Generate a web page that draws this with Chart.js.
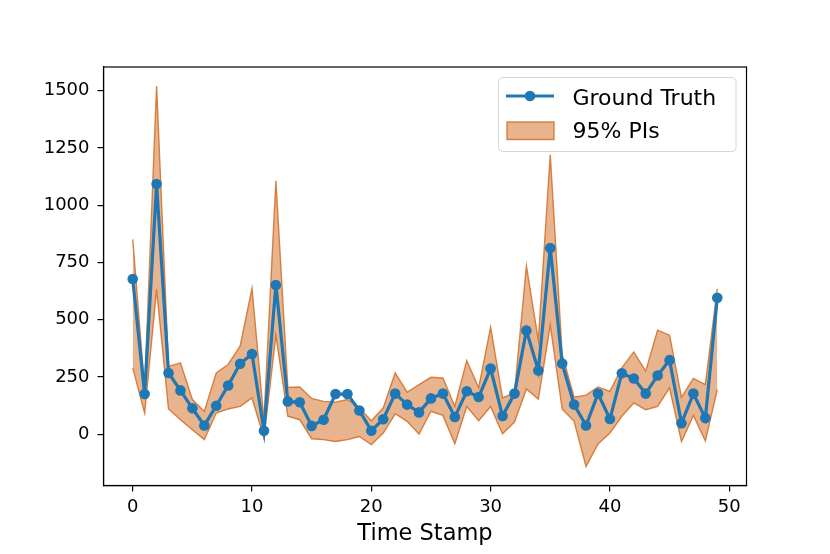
<!DOCTYPE html>
<html lang="en">
<head>
    <meta charset="UTF-8">
    <title>Ground Truth vs 95% PIs</title>
    <script src="https://cdn.jsdelivr.net/npm/chart.js"></script>
    <style>
        body { margin: 0; background: #ffffff; }
        canvas { display: block; }
    </style>
</head>
<body>
    <canvas id="piChart" width="830" height="554"></canvas>

    <script>
        // values
        const timeStamps = [0, 1, 2, 3, 4, 5, 6, 7, 8, 9, 10, 11, 12, 13, 14, 15, 16, 17, 18, 19,
                            20, 21, 22, 23, 24, 25, 26, 27, 28, 29, 30, 31, 32, 33, 34, 35, 36, 37, 38, 39,
                            40, 41, 42, 43, 44, 45, 46, 47, 48, 49];
        const groundTruth = [678, 176, 1092, 268, 192, 114, 39, 125, 213, 308, 351, 16, 652, 144, 140, 37,
                             64, 176, 176, 104, 16, 66, 178, 130, 96, 157, 178, 76, 188, 163, 287, 80, 178,
                             453, 279, 813, 309, 130, 39, 178, 67, 267, 244, 178, 257, 324, 49, 178, 71, 596];
        const piUpper = [851, 200, 1520, 297, 312, 152, 100, 268, 305, 385, 637, 60, 1106, 205, 207, 157,
                         144, 141, 152, 115, 60, 115, 268, 184, 217, 249, 246, 122, 322, 203, 468, 159, 181,
                         735, 410, 1220, 348, 162, 171, 207, 188, 290, 360, 276, 455, 433, 162, 244, 217, 635];
        const piLower = [290, 93, 633, 111, 64, 20, -23, 93, 111, 122, 159, -16, 433, 79, 64, -19,
                         -23, -31, -23, -9, -45, 6, 90, 57, 1, 101, 83, -41, 122, 60, 122, 3, 54,
                         198, 154, 477, 111, 57, -140, -42, 6, 79, 137, 108, 122, 203, -31, 83, -28, 195];
        const xTicks = [0, 10, 20, 30, 40, 50];
        const yTicks = [0, 250, 500, 750, 1000, 1250, 1500];

        const FONT = "'DejaVu Sans', sans-serif";
        const BLUE = "#1f77b4";
        const BAND_FILL = "rgba(210, 105, 30, 0.5)";
        const BAND_EDGE = "rgba(210, 110, 40, 0.85)";

        const toPoints = arr => arr.map((v, i) => ({ x: timeStamps[i], y: v }));

        // box round the plot and a matplotlib style legend
        const framePlugin = {
            id: "frame",
            afterDraw(chart) {
                const ctx = chart.ctx;
                const a = chart.chartArea;
                ctx.save();
                ctx.strokeStyle = "#000";
                ctx.lineWidth = 1.2;
                ctx.strokeRect(a.left, a.top, a.right - a.left, a.bottom - a.top);

                // legend
                const lx = 498.5, ly = 77.5, lw = 237.5, lh = 74, r = 4;
                ctx.beginPath();
                ctx.moveTo(lx + r, ly);
                ctx.arcTo(lx + lw, ly, lx + lw, ly + lh, r);
                ctx.arcTo(lx + lw, ly + lh, lx, ly + lh, r);
                ctx.arcTo(lx, ly + lh, lx, ly, r);
                ctx.arcTo(lx, ly, lx + lw, ly, r);
                ctx.closePath();
                ctx.fillStyle = "rgba(255,255,255,0.8)";
                ctx.fill();
                ctx.strokeStyle = "#d6d6d6";
                ctx.lineWidth = 1;
                ctx.stroke();

                ctx.strokeStyle = BLUE;
                ctx.lineWidth = 3.2;
                ctx.beginPath();
                ctx.moveTo(506, 96);
                ctx.lineTo(554, 96);
                ctx.stroke();
                ctx.fillStyle = BLUE;
                ctx.beginPath();
                ctx.arc(530, 96, 5.3, 0, Math.PI * 2);
                ctx.fill();

                ctx.fillStyle = BAND_FILL;
                ctx.fillRect(507, 122, 47, 17.5);
                ctx.strokeStyle = BAND_EDGE;
                ctx.lineWidth = 1.4;
                ctx.strokeRect(507, 122, 47, 17.5);

                ctx.fillStyle = "#000";
                ctx.font = "22px " + FONT;
                ctx.textBaseline = "alphabetic";
                ctx.fillText("Ground Truth", 572.5, 105);
                ctx.fillText("95% PIs", 572.5, 138);
                ctx.restore();
            }
        };

        const ctx = document.getElementById("piChart").getContext("2d");
        new Chart(ctx, {
            type: "line",
            data: {
                datasets: [
                    {
                        label: "Ground Truth",
                        data: toPoints(groundTruth),
                        borderColor: BLUE,
                        backgroundColor: BLUE,
                        borderWidth: 3.2,
                        pointRadius: 5.3,
                        pointHoverRadius: 5.3,
                        pointBorderWidth: 0,
                        tension: 0,
                        fill: false,
                        order: 0
                    },
                    {
                        label: "95% PIs",
                        data: toPoints(piUpper),
                        borderColor: BAND_EDGE,
                        backgroundColor: BAND_FILL,
                        borderWidth: 1.4,
                        pointRadius: 0,
                        tension: 0,
                        fill: "+1",
                        order: 1
                    },
                    {
                        label: "lower",
                        data: toPoints(piLower),
                        borderColor: BAND_EDGE,
                        backgroundColor: BAND_FILL,
                        borderWidth: 1.4,
                        pointRadius: 0,
                        tension: 0,
                        fill: false,
                        order: 2
                    }
                ]
            },
            options: {
                responsive: false,
                animation: false,
                layout: { padding: { left: 0, top: 67, right: 83.5, bottom: 0 } },
                plugins: {
                    legend: { display: false },
                    tooltip: { enabled: false }
                },
                scales: {
                    x: {
                        type: "linear",
                        min: -2.45,
                        max: 51.45,
                        afterBuildTicks: s => { s.ticks = xTicks.map(v => ({ value: v })); },
                        afterFit: s => { s.height = 68.5; },
                        grid: { drawOnChartArea: false, drawTicks: true, tickLength: 6, color: "#000", lineWidth: 1.2 },
                        border: { display: true, color: "#000", width: 1.2 },
                        ticks: {
                            padding: 5,
                            color: "#000",
                            font: { family: FONT, size: 18 },
                            maxRotation: 0,
                            callback: v => String(v)
                        },
                        title: {
                            display: true,
                            text: "Time Stamp",
                            color: "#000",
                            font: { family: FONT, size: 22.5 },
                            padding: { top: 0, bottom: 6 }
                        }
                    },
                    y: {
                        min: -223,
                        max: 1603,
                        afterBuildTicks: s => { s.ticks = yTicks.map(v => ({ value: v })); },
                        afterFit: s => { s.width = 103.5; },
                        grid: { drawOnChartArea: false, drawTicks: true, tickLength: 6, color: "#000", lineWidth: 1.2 },
                        border: { display: true, color: "#000", width: 1.2 },
                        ticks: {
                            padding: 8,
                            color: "#000",
                            font: { family: FONT, size: 18 },
                            callback: v => String(v)
                        }
                    }
                }
            },
            plugins: [framePlugin]
        });
    </script>
</body>
</html>
